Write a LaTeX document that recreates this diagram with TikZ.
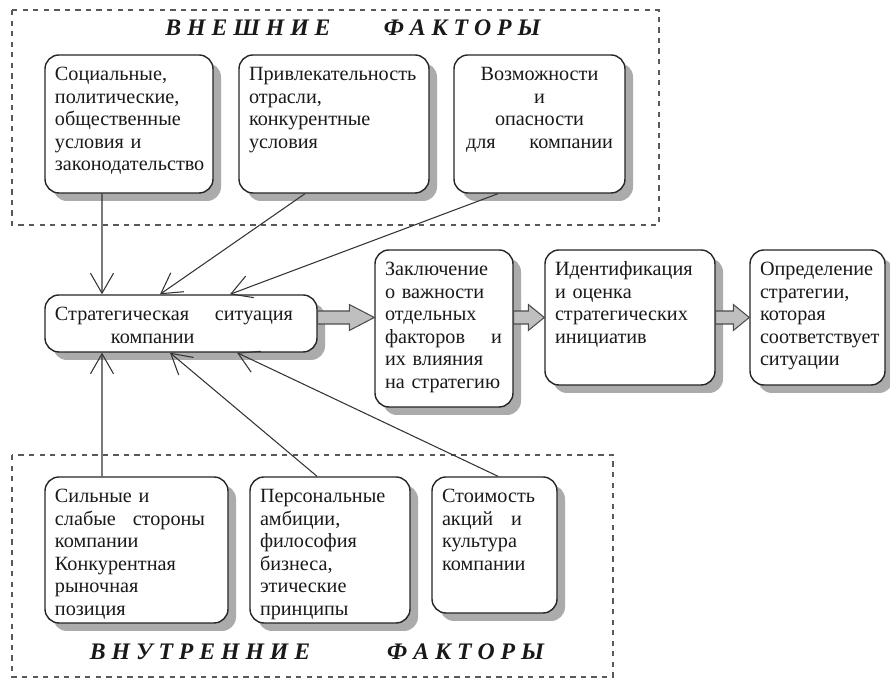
\documentclass[tikz,border=0pt]{standalone}
\usepackage{fontspec}
\setmainfont{Liberation Serif}
\usepackage{tikz}
\usetikzlibrary{arrows.meta, calc, shadows}

% gray block arrow between two boxes (start, end, head length)
\newcommand{\blockarrow}[3]{%
  \draw[barrow] let \p1=(#1), \p2=(#2) in
    (\x1,\y1+0.13cm) -- (\x2-#3,\y1+0.13cm) -- (\x2-#3,\y1+0.26cm) -- (\x2,\y1)
    -- (\x2-#3,\y1-0.26cm) -- (\x2-#3,\y1-0.13cm) -- (\x1,\y1-0.13cm) -- cycle;}
% a line spread over a given width
\newcommand{\spreadline}[3]{\makebox[#1][l]{#2\hfill #3}}

\begin{document}
\begin{tikzpicture}[
  font=\fontsize{11.5}{12.8}\selectfont,
  factor/.style={
    rounded corners=0.28cm,
    draw=black!85,
    line width=0.8pt,
    align=left,
    inner xsep=0.2cm,
    inner ysep=0.2cm,
    text height=0.32cm,
    text depth=#1,
    fill=white,
    text=black!90,
    drop shadow={shadow xshift=0.16cm, shadow yshift=-0.16cm, fill=black!33, opacity=1}
  },
  frame/.style={draw=black!65, line width=0.8pt, dash pattern=on 3pt off 3pt},
  title/.style={font=\fontsize{13.5}{15}\selectfont\bfseries\itshape, text=black!90},
  arrow/.style={-{Straight Barb[length=0.4cm, width=0.46cm]}, draw=black!80, line width=0.6pt},
  barrow/.style={draw=black!70, fill=black!25, line width=0.6pt}
]
\useasboundingbox (0,0) rectangle (17.8,13.6);

% frames of the two groups
\draw[frame] (0.24,13.4) rectangle (13.18,9.1);
\draw[frame] (0.24,4.5) rectangle (12.26,0.06);

\node[title] (exttitle) at (7.06,13.04) {В Н Е Ш Н И Е \quad\quad Ф А К Т О Р Ы};
\node[title] (inttitle) at (6.34,0.56) {В Н У Т Р Е Н Н И Е \quad\quad\quad Ф А К Т О Р Ы};

% external factors
\node[factor=2.04cm, text width=2.96cm] (ext1) at (2.58,11.12)
  {Социальные,\\политические,\\общественные\\условия и\\законодательство};
\node[factor=2.04cm, text width=3.4cm] (ext2) at (6.68,11.12)
  {Привлекательность\\отрасли,\\конкурентные\\условия};
\node[factor=2.04cm, text width=3.02cm, align=center] (ext3) at (10.79,11.12)
  {Возможности\\и\\опасности\\\spreadline{2.94cm}{для}{компании}};

% main chain
\node[factor=0.42cm, text width=5.04cm] (sit) at (3.62,7.13)
  {\spreadline{4.76cm}{Стратегическая}{ситуация}\\\hspace*{1.12cm}компании};
\node[factor=2.42cm, text width=2.36cm] (concl) at (8.88,7.03)
  {Заключение\\о важности\\отдельных\\\spreadline{2.34cm}{факторов}{и}\\их влияния\\на стратегию};
\node[factor=1.98cm, text width=3.0cm] (ident) at (12.6,7.25)
  {Идентификация\\и оценка\\стратегических\\инициатив};
\node[factor=1.98cm, text width=2.3cm] (strat) at (16.35,7.25)
  {Определение\\стратегии,\\которая\\соответствует\\ситуации};

% internal factors
\node[factor=2.2cm, text width=3.26cm] (int1) at (2.73,2.6)
  {Сильные и\\\spreadline{3.0cm}{слабые}{стороны}\\компании\\Конкурентная\\рыночная\\позиция};
\node[factor=2.2cm, text width=2.8cm] (int2) at (6.6,2.6)
  {Персональные\\амбиции,\\философия\\бизнеса,\\этические\\принципы};
\node[factor=2.0cm, text width=2.1cm] (int3) at (9.89,2.7)
  {Стоимость\\\spreadline{1.6cm}{акций}{и}\\культура\\компании};

% influences
\draw[arrow] ([xshift=-0.54cm]ext1.south) -- ([xshift=-1.58cm]sit.north);
\draw[arrow] ([xshift=-0.58cm]ext2.south) -- ([xshift=-0.42cm]sit.north);
\draw[arrow] ([xshift=-0.83cm]ext3.south) -- ([xshift=0.98cm]sit.north);
\draw[arrow] ([xshift=-0.69cm]int1.north) -- ([xshift=-1.58cm]sit.south);
\draw[arrow] ([xshift=-0.26cm]int2.north) -- ([xshift=-0.22cm]sit.south);
\draw[arrow] ([xshift=0.07cm]int3.north) -- ([xshift=1.12cm]sit.south);

\blockarrow{sit.east |- ident.west}{concl.west}{0.5cm}
\blockarrow{concl.east |- ident.west}{ident.west}{0.32cm}
\blockarrow{ident.east}{strat.west}{0.32cm}

\end{tikzpicture}
\end{document}
